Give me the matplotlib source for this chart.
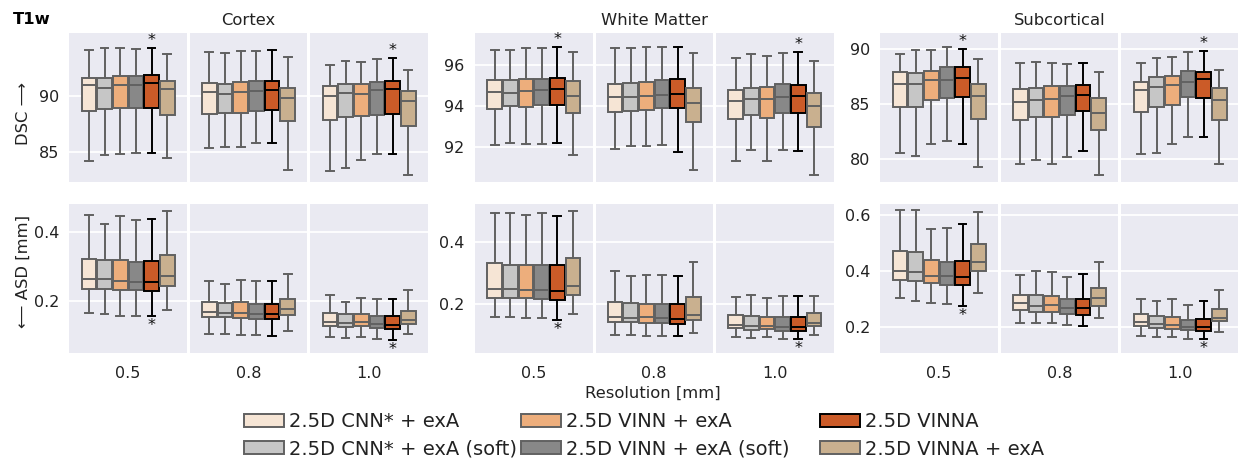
import matplotlib
matplotlib.use("Agg")
import matplotlib.pyplot as plt
from matplotlib.patches import Patch

# ---------------- data ----------------
regions = ["Cortex", "White Matter", "Subcortical"]
resolutions = ["0.5", "0.8", "1.0"]
models = ["2.5D CNN* + exA", "2.5D CNN* + exA (soft)", "2.5D VINN + exA",
          "2.5D VINN + exA (soft)", "2.5D VINNA", "2.5D VINNA + exA"]
colors = ["#F6E5D5", "#C6C6C6", "#EDAE7C", "#888888", "#CB5B28", "#C9B08F"]

# each entry: [whisker_low, q1, median, q3, whisker_high]
cortex_dsc = [
    [[84.18, 88.65, 90.94, 91.62, 94.09], [84.74, 88.82, 90.71, 91.59, 94.24], [84.79, 88.88, 91.00, 91.76, 94.24],
     [84.88, 88.88, 91.00, 91.76, 94.20], [84.85, 88.94, 91.15, 91.88, 94.26], [84.41, 88.29, 90.62, 91.29, 93.74]],
    [[85.35, 88.38, 90.32, 91.12, 93.91], [85.41, 88.50, 90.15, 91.06, 93.82], [85.44, 88.44, 90.29, 91.24, 94.00],
     [85.79, 88.65, 90.44, 91.29, 94.00], [85.79, 88.74, 90.50, 91.35, 94.09], [83.35, 87.71, 89.76, 90.68, 93.44]],
    [[83.24, 87.79, 90.00, 90.85, 92.76], [83.59, 88.06, 90.21, 91.09, 93.06], [84.24, 88.18, 90.12, 91.03, 92.97],
     [84.82, 88.26, 90.47, 91.21, 93.26], [84.82, 88.35, 90.56, 91.35, 93.35], [82.91, 87.26, 89.56, 90.44, 92.26]],
]
cortex_asd = [
    [[0.164, 0.235, 0.262, 0.321, 0.448], [0.161, 0.236, 0.262, 0.318, 0.423], [0.158, 0.233, 0.258, 0.317, 0.446],
     [0.157, 0.231, 0.256, 0.312, 0.433], [0.156, 0.229, 0.254, 0.314, 0.437], [0.174, 0.243, 0.273, 0.332, 0.461]],
    [[0.104, 0.154, 0.167, 0.197, 0.259], [0.106, 0.154, 0.165, 0.195, 0.248], [0.102, 0.152, 0.166, 0.196, 0.261],
     [0.102, 0.149, 0.163, 0.192, 0.257], [0.100, 0.148, 0.162, 0.192, 0.258], [0.112, 0.160, 0.177, 0.207, 0.278]],
    [[0.097, 0.128, 0.139, 0.166, 0.218], [0.093, 0.125, 0.136, 0.161, 0.198], [0.095, 0.127, 0.138, 0.163, 0.208],
     [0.090, 0.121, 0.133, 0.157, 0.205], [0.088, 0.120, 0.132, 0.157, 0.207], [0.104, 0.133, 0.145, 0.172, 0.232]],
]
wm_dsc = [
    [[92.06, 93.88, 94.69, 95.28, 96.75], [92.16, 94.00, 94.66, 95.30, 96.78], [92.11, 93.95, 94.74, 95.32, 96.85],
     [92.11, 94.03, 94.81, 95.33, 96.85], [92.17, 94.03, 94.82, 95.37, 96.91], [91.58, 93.65, 94.49, 95.22, 96.67]],
    [[91.88, 93.72, 94.44, 95.10, 96.88], [92.01, 93.77, 94.44, 95.12, 96.85], [92.02, 93.79, 94.49, 95.19, 96.93],
     [92.07, 93.90, 94.54, 95.28, 96.90], [91.74, 93.90, 94.59, 95.32, 96.91], [90.87, 93.21, 94.15, 94.87, 96.60]],
    [[91.28, 93.34, 94.25, 94.81, 96.39], [91.86, 93.57, 94.36, 94.87, 96.55], [91.28, 93.42, 94.33, 94.92, 96.47],
     [91.86, 93.64, 94.44, 95.07, 96.60], [91.78, 93.67, 94.49, 95.04, 96.65], [90.59, 92.99, 94.00, 94.63, 96.22]],
]
wm_asd = [
    [[0.160, 0.220, 0.248, 0.333, 0.493], [0.160, 0.218, 0.247, 0.326, 0.491], [0.155, 0.218, 0.244, 0.325, 0.486],
     [0.155, 0.215, 0.245, 0.326, 0.493], [0.150, 0.214, 0.243, 0.324, 0.483], [0.168, 0.229, 0.259, 0.347, 0.499]],
    [[0.102, 0.142, 0.157, 0.207, 0.306], [0.102, 0.141, 0.156, 0.202, 0.291], [0.099, 0.139, 0.158, 0.200, 0.292],
     [0.099, 0.138, 0.154, 0.200, 0.292], [0.097, 0.137, 0.152, 0.199, 0.289], [0.108, 0.149, 0.165, 0.224, 0.335]],
    [[0.094, 0.122, 0.133, 0.165, 0.224], [0.091, 0.117, 0.129, 0.161, 0.229], [0.094, 0.119, 0.129, 0.159, 0.221],
     [0.088, 0.114, 0.127, 0.159, 0.226], [0.087, 0.112, 0.125, 0.158, 0.226], [0.102, 0.128, 0.140, 0.171, 0.227]],
]
sub_dsc = [
    [[80.55, 84.70, 86.85, 87.97, 89.55], [80.27, 84.76, 86.85, 87.88, 89.91], [81.36, 85.39, 87.21, 88.06, 89.97],
     [81.61, 85.52, 87.24, 88.39, 90.18], [81.39, 85.61, 87.39, 88.42, 90.06], [79.27, 83.67, 85.73, 86.85, 89.12]],
    [[79.55, 83.58, 85.21, 86.36, 88.76], [79.85, 83.82, 85.33, 86.48, 88.85], [79.55, 83.79, 85.45, 86.64, 88.79],
     [80.15, 84.00, 85.70, 86.64, 88.67], [80.73, 84.36, 85.82, 86.76, 88.73], [78.48, 82.67, 84.15, 85.58, 87.91]],
    [[80.45, 84.27, 86.27, 87.06, 88.79], [80.48, 84.70, 86.55, 87.52, 89.18], [81.36, 84.94, 86.70, 87.55, 89.30],
     [81.97, 85.61, 87.06, 88.03, 89.76], [82.03, 85.55, 87.27, 87.94, 89.88], [79.55, 83.58, 85.33, 86.48, 88.09]],
]
sub_asd = [
    [[0.303, 0.367, 0.398, 0.470, 0.616], [0.293, 0.364, 0.395, 0.467, 0.616], [0.284, 0.358, 0.383, 0.438, 0.551],
     [0.281, 0.348, 0.383, 0.430, 0.555], [0.274, 0.348, 0.377, 0.436, 0.568], [0.319, 0.400, 0.433, 0.496, 0.612]],
    [[0.212, 0.260, 0.284, 0.312, 0.386], [0.212, 0.254, 0.275, 0.312, 0.401], [0.212, 0.254, 0.278, 0.310, 0.395],
     [0.208, 0.245, 0.266, 0.300, 0.379], [0.202, 0.242, 0.268, 0.301, 0.390], [0.231, 0.274, 0.304, 0.339, 0.432]],
    [[0.168, 0.202, 0.216, 0.245, 0.298], [0.163, 0.195, 0.210, 0.239, 0.292], [0.165, 0.193, 0.206, 0.235, 0.300],
     [0.156, 0.187, 0.200, 0.224, 0.276], [0.155, 0.183, 0.198, 0.226, 0.291], [0.181, 0.219, 0.232, 0.264, 0.330]],
]

dsc_data = [cortex_dsc, wm_dsc, sub_dsc]
asd_data = [cortex_asd, wm_asd, sub_asd]
dsc_ylim = [(82.3, 95.6), (90.26, 97.6), (77.87, 91.5)]
asd_ylim = [(0.049, 0.479), (0.042, 0.52), (0.105, 0.638)]
dsc_ticks = [[85, 90], [92, 94, 96], [80, 85, 90]]
asd_ticks = [[0.2, 0.4], [0.2, 0.4], [0.2, 0.4, 0.6]]
star_res = [0, 2]          # resolutions with significance star on VINNA
star_model = 4

# ---------------- figure ----------------
W, H = 1238, 462
fig = plt.figure(figsize=(W / 100, H / 100), dpi=100)
fig.patch.set_facecolor("white")

group_left = [69.3, 475.0, 880.3]
panel_w = 117.5
panel_gap = 3.0
rows_px = [(33.0, 182.0), (204.3, 353.3)]

edge_gray = "#616161"
TXT = "#222222"
FS = 11.5
LW = 1.4


def draw_panel(ax, stats5, ylim, ticks, show_y, row, res_i):
    ax.set_facecolor("#EAEAF2")
    for s in ax.spines.values():
        s.set_visible(False)
    n = len(stats5)
    bw = 0.8 / n
    positions = [(i - (n - 1) / 2) * bw for i in range(n)]
    for i, v in enumerate(stats5):
        st = dict(whislo=v[0], q1=v[1], med=v[2], q3=v[3], whishi=v[4], fliers=[])
        ec = "black" if i == star_model else edge_gray
        ax.bxp([st], positions=[positions[i]], widths=bw * 0.94, patch_artist=True,
               showfliers=False, capwidths=bw * 0.5,
               boxprops=dict(facecolor=colors[i], edgecolor=ec, linewidth=LW),
               medianprops=dict(color=ec, linewidth=LW),
               whiskerprops=dict(color=ec, linewidth=LW),
               capprops=dict(color=ec, linewidth=LW), zorder=3)
    if res_i in star_res:
        v = stats5[star_model]
        if row == 0:
            ax.annotate("*", (positions[star_model], v[4]), xytext=(0, 0.0),
                        textcoords="offset points", ha="center", va="bottom",
                        fontsize=FS, zorder=4, color="#111111")
        else:
            ax.annotate("*", (positions[star_model], v[0]), xytext=(0, -1.5),
                        textcoords="offset points", ha="center", va="top",
                        fontsize=FS, zorder=4, color="#111111")
    ax.set_xlim(-0.5, 0.5)
    ax.set_ylim(*ylim)
    ax.set_yticks(ticks)
    ax.yaxis.grid(True, color="white", linewidth=1.3, zorder=0)
    ax.set_axisbelow(True)
    ax.tick_params(axis="both", length=0, labelsize=FS, colors=TXT)
    ax.tick_params(axis="y", pad=7.5)
    if not show_y:
        ax.set_yticklabels([])
    else:
        ax.set_yticklabels([f"{t:g}" if row == 0 else f"{t:.1f}" for t in ticks])
    if row == 1:
        ax.set_xticks([0])
        ax.set_xticklabels([resolutions[res_i]])
        ax.tick_params(axis="x", pad=9)
    else:
        ax.set_xticks([])


for g in range(3):
    for row in range(2):
        top, bot = rows_px[row]
        for r in range(3):
            left = group_left[g] + r * (panel_w + panel_gap)
            ax = fig.add_axes([left / W, 1 - bot / H, panel_w / W, (bot - top) / H])
            data = dsc_data[g] if row == 0 else asd_data[g]
            ylim = dsc_ylim[g] if row == 0 else asd_ylim[g]
            ticks = dsc_ticks[g] if row == 0 else asd_ticks[g]
            draw_panel(ax, data[r], ylim, ticks, r == 0, row, r)
    cx = group_left[g] + 1.5 * panel_w + panel_gap
    fig.text(cx / W, 1 - 25 / H, regions[g], ha="center", va="baseline", fontsize=11.8, color=TXT)

fig.text(13 / W, 1 - 24.5 / H, "T1w", ha="left", va="baseline", fontsize=11.8, fontweight="bold")
fig.text(23 / W, 1 - 113 / H, "DSC \u27f6", rotation=90, ha="center", va="center", fontsize=11.8, color=TXT)
fig.text(23 / W, 1 - 271 / H, "\u27f5 ASD [mm]", rotation=90, ha="center", va="center", fontsize=11.8, color=TXT)
fig.text(653 / W, 1 - 393 / H, "Resolution [mm]", ha="center", va="center", fontsize=11.8, color=TXT)

handles = [Patch(facecolor=c, edgecolor=("black" if i == star_model else edge_gray), linewidth=1.4)
           for i, c in enumerate(colors)]
legend_x = [244, 521, 820]
for k in range(3):
    leg = fig.legend(handles[2 * k:2 * k + 2], models[2 * k:2 * k + 2], ncol=1, loc="center left",
                     bbox_to_anchor=(legend_x[k] / W, 1 - 435.5 / H), frameon=False,
                     fontsize=14, handlelength=2.07, handleheight=0.68, handletextpad=0.25,
                     labelspacing=0.42, borderpad=0, borderaxespad=0)
    for t in leg.get_texts():
        t.set_color(TXT)

fig.savefig("out.png", dpi=100, facecolor="white")
